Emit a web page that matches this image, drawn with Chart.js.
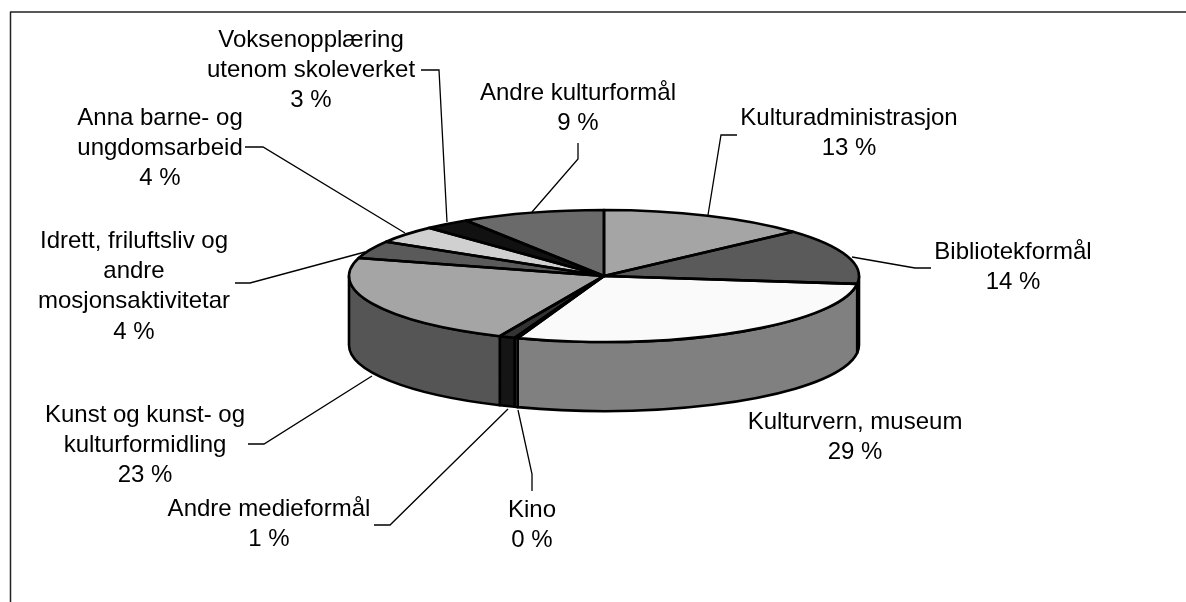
<!DOCTYPE html>
<html><head><meta charset="utf-8">
<style>html,body{margin:0;padding:0;background:#fff}#w{position:relative;width:1186px;height:602px}</style>
<script src="https://cdn.jsdelivr.net/npm/chart.js@4"></script>
</head><body><div id="w"><canvas id="c" width="1186" height="602"></canvas></div>
<script>
const categories=["Kulturadministrasjon","Bibliotekformål","Kulturvern, museum","Kino","Andre medieformål","Kunst og kunst- og kulturformidling","Idrett, friluftsliv og andre mosjonsaktivitetar","Anna barne- og ungdomsarbeid","Voksenopplæring utenom skoleverket","Andre kulturformål"];
const values=[13.3,13.6,28.6,0.2,1.0,22.7,4.3,4.3,2.9,9.1];
const percentLabels=["13 %","14 %","29 %","0 %","1 %","23 %","4 %","4 %","3 %","9 %"];
const labelLines=[["Kulturadministrasjon"],["Bibliotekformål"],["Kulturvern, museum"],["Kino"],["Andre medieformål"],["Kunst og kunst- og","kulturformidling"],["Idrett, friluftsliv og","andre","mosjonsaktivitetar"],["Anna barne- og","ungdomsarbeid"],["Voksenopplæring","utenom skoleverket"],["Andre kulturformål"]];
const topColors=["#a5a5a5","#5a5a5a","#fafafa","#808080","#333333","#a5a5a5","#5a5a5a","#d0d0d0","#111111","#6a6a6a"];
const sideColors=["#7b7b7b","#444444","#808080","#606060","#151515","#555555","#444444","#999999","#0a0a0a","#505050"];

// layout (pixels)
const CX=604,CY=276,R=255,SQUASH=66/255,DEPTH=69,LH=30.3,FONT='24px "Liberation Sans",Arial,sans-serif';
const labelCenters=[[849,118],[1013,252],[855,422],[532,510],[269,509],[145,415],[134,241],[160,118],[311,40],[578,93]];
const leaders=[
 [[737,135],[721,135],[708,215]],
 [[931,268],[915,268],[852,257]],
 null,
 [[532,491],[532,474],[518,410]],
 [[374,525],[390,525],[508,409]],
 [[248,444],[264,444],[372,376]],
 [[235,283],[250,283],[365,252]],
 [[245,147],[263,147],[405,233]],
 [[421,70],[439,70],[447,222]],
 [[578,143],[578,159],[532,212]]
];

const pie3d={
 id:'pie3d',
 beforeDatasetsDraw(chart){
  const ctx=chart.ctx,arcs=chart.getDatasetMeta(0).data;
  ctx.save();
  ctx.strokeStyle='#000';ctx.lineWidth=1.3;
  leaders.forEach(l=>{if(!l)return;ctx.beginPath();l.forEach((p,i)=>i?ctx.lineTo(p[0],p[1]):ctx.moveTo(p[0],p[1]));ctx.stroke();});
  // side walls: only the part of each slice on the near half of the rim
  ctx.lineWidth=2.6;ctx.lineJoin='round';
  arcs.forEach((a,i)=>{
    const s=Math.max(a.startAngle,0),e=Math.min(a.endAngle,Math.PI);
    if(e<=s)return;
    ctx.beginPath();
    ctx.ellipse(CX,CY,R,R*SQUASH,0,s,e,false);
    ctx.ellipse(CX,CY+DEPTH,R,R*SQUASH,0,e,s,true);
    ctx.closePath();
    ctx.fillStyle=sideColors[i];ctx.fill();ctx.stroke();
  });
  ctx.restore();
  // the library draws the slices through a flattened view
  ctx.save();
  ctx.translate(CX,CY);ctx.scale(1,SQUASH);ctx.translate(-arcs[0].x,-arcs[0].y);
 },
 afterDatasetsDraw(chart){
  const ctx=chart.ctx,arcs=chart.getDatasetMeta(0).data;
  ctx.restore();
  ctx.save();
  ctx.strokeStyle='#000';ctx.lineWidth=2.6;ctx.lineJoin='round';
  arcs.forEach(a=>{
    ctx.beginPath();ctx.moveTo(CX,CY);
    ctx.ellipse(CX,CY,R,R*SQUASH,0,a.startAngle,a.endAngle,false);
    ctx.closePath();ctx.stroke();
  });
  // frame
  ctx.strokeStyle='#222';ctx.lineWidth=1.5;
  ctx.beginPath();ctx.moveTo(10.5,602);ctx.lineTo(10.5,12);ctx.lineTo(1186,12);ctx.stroke();
  // labels
  ctx.fillStyle='#000';ctx.font=FONT;ctx.textAlign='center';ctx.textBaseline='middle';
  categories.forEach((c,i)=>{
    const lines=labelLines[i].concat(percentLabels[i]);
    lines.forEach((t,j)=>ctx.fillText(t,labelCenters[i][0],labelCenters[i][1]+j*LH));
  });
  ctx.restore();
 }
};
new Chart(document.getElementById('c'),{
 type:'pie',
 data:{labels:categories,datasets:[{data:values,backgroundColor:topColors,borderWidth:0}]},
 options:{responsive:false,animation:false,
  layout:{padding:{left:CX-R,right:1186-CX-R,top:CY-R,bottom:602-CY-R}},
  plugins:{legend:{display:false},tooltip:{enabled:false}}},
 plugins:[pie3d]
});
</script></body></html>
